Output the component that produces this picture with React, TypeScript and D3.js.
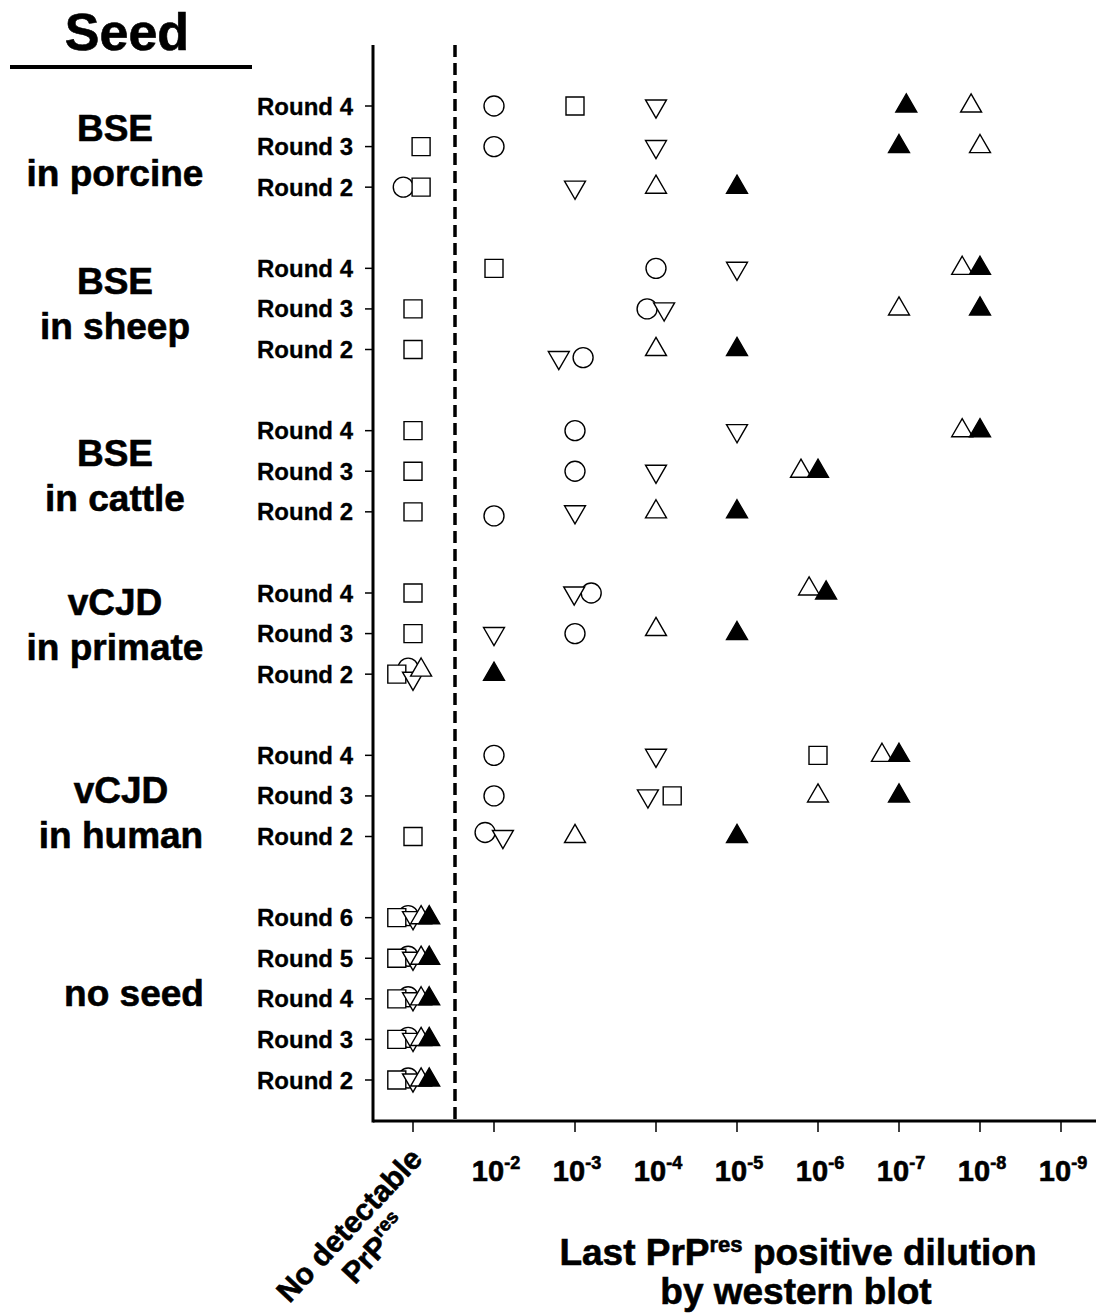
import React from "react";
import * as d3 from "d3";

// seed groups and the PMCA rounds shown for each
const groupLines = [
  ["BSE", "in porcine"],
  ["BSE", "in sheep"],
  ["BSE", "in cattle"],
  ["vCJD", "in primate"],
  ["vCJD", "in human"],
  ["no seed"],
];
const groupRounds = [
  [4, 3, 2],
  [4, 3, 2],
  [4, 3, 2],
  [4, 3, 2],
  [4, 3, 2],
  [6, 5, 4, 3, 2],
];

// dilution exponents on the x axis (10^-n); 1 = no detectable PrPres
const xTicks = [2, 3, 4, 5, 6, 7, 8, 9];
const ndValue = 1;

// last positive dilution per row (exponent), one entry per round row top to bottom
const circleVals = [2, 2, 0.88, 4, 3.89, 3.1, 3, 3, 2, 3.2, 3, 0.94, 2, 2, 1.89, 0.94, 0.94, 0.94, 0.94, 0.94];
const squareVals = [3, 1.1, 1.1, 2, 1, 1, 1, 1, 1, 1, 1, 0.8, 6, 4.2, 1, 0.8, 0.8, 0.8, 0.8, 0.8];
const downTriVals = [4, 4, 3, 5, 4.1, 2.8, 5, 4, 3, 2.99, 2, 1, 4, 3.9, 2.11, 1, 1, 1, 1, 1];
const openTriVals = [7.89, 8, 4, 7.78, 7, 4, 7.78, 5.79, 4, 5.89, 4, 1.1, 6.79, 6, 3, 1.1, 1.1, 1.1, 1.1, 1.1];
const filledTriVals = [7.09, 7, 5, 8, 8, 5, 8, 6, 5, 6.1, 5, 2, 7, 7, 5, 1.2, 1.2, 1.2, 1.2, 1.2];

// small vertical jitter of overlapping points, in row units
const circleDy = [0, 0, 0, 0, 0, 0.2, 0, 0, 0.1, 0, 0, -0.15, 0, 0, -0.1, -0.05, -0.05, -0.05, -0.05, -0.05];
const downTriDy = [0, 0, 0, 0, 0, 0.2, 0, 0, 0, 0, 0, 0.1, 0, 0, 0, 0, 0, 0, 0, 0];
const openTriDy = [0, 0, 0, 0, 0, 0, 0, 0, 0, -0.1, -0.1, -0.1, 0, 0, 0, 0, 0, 0, 0, 0];

const W = 1098;
const H = 1313;
const font = "'Liberation Sans', Arial, Helvetica, sans-serif";

// label placement (layout only)
const labelSlot = [1.12, 4.87, 9.12, 12.8, 17.41, 21.86];
const labelX = [115, 115, 115, 115, 121, 134];

const x = d3.scaleLinear().domain([ndValue, 9]).range([413, 1061]);
const y = d3.scaleLinear().domain([0, 24]).range([106, 1080]);

const rows: { label: string; slot: number }[] = [];
groupRounds.forEach((rs, gi) => {
  rs.forEach((r) => rows.push({ label: `Round ${r}`, slot: rows.length + gi }));
});

const circlePath = d3.symbol(d3.symbolCircle, 314)()!;
const squarePath = d3.symbol(d3.symbolSquare, 324)()!;
const triPath = d3.symbol(d3.symbolTriangle, 190)()!;

const series = [
  { vals: circleVals, dy: circleDy, d: circlePath, fill: "#fff", rot: 0 },
  { vals: squareVals, dy: null, d: squarePath, fill: "#fff", rot: 0 },
  { vals: downTriVals, dy: downTriDy, d: triPath, fill: "#fff", rot: 180 },
  { vals: openTriVals, dy: openTriDy, d: triPath, fill: "#fff", rot: 0 },
  { vals: filledTriVals, dy: null, d: triPath, fill: "#000", rot: 0 },
];

const axisTop = 45;
const axisBottom = 1121;
const axisLeft = 373;
const dashX = 455;

// slightly heavier glyphs, closer to the scanned bold
const heavy = { stroke: "#000", strokeWidth: 0.6 };

const App = () => {
  return (
    <div style={{ position: "absolute", left: 0, top: 0 }}>
      <svg width={W} height={H} viewBox={`0 0 ${W} ${H}`} fontFamily={font} fontWeight="bold">
        <rect width={W} height={H} fill="#fff" />

        {/* header */}
        <text x={127} y={50} fontSize={52} textAnchor="middle" {...heavy}>
          Seed
        </text>
        <line x1={10} x2={252} y1={67} y2={67} stroke="#000" strokeWidth={4} />

        {/* group labels */}
        {groupLines.map((lines, gi) => {
          const cy = y(labelSlot[gi]);
          const off = ((lines.length - 1) * 45) / 2;
          return lines.map((t, li) => (
            <text
              key={gi + "-" + li}
              x={labelX[gi]}
              y={cy - off + li * 45}
              fontSize={37}
              textAnchor="middle"
              dominantBaseline="central"
              {...heavy}
            >
              {t}
            </text>
          ));
        })}

        {/* y axis */}
        <line x1={axisLeft} x2={axisLeft} y1={axisTop} y2={axisBottom + 1.5} stroke="#000" strokeWidth={3} />
        {rows.map((r, i) => (
          <g key={i} transform={`translate(0,${y(r.slot)})`}>
            <line x1={axisLeft - 8} x2={axisLeft} stroke="#000" strokeWidth={1.5} />
            <text x={353} fontSize={24} textAnchor="end" dominantBaseline="central" stroke="#000" strokeWidth={0.3}>
              {r.label}
            </text>
          </g>
        ))}

        {/* x axis */}
        <line x1={axisLeft} x2={1096} y1={axisBottom} y2={axisBottom} stroke="#000" strokeWidth={3} />
        {[ndValue, ...xTicks].map((v) => (
          <line key={v} x1={x(v)} x2={x(v)} y1={axisBottom} y2={axisBottom + 11} stroke="#000" strokeWidth={1.5} />
        ))}
        {xTicks.map((v) => (
          <text key={v} x={x(v) + 2} y={1181} fontSize={29} textAnchor="middle" {...heavy}>
            10
            <tspan fontSize={18} dy={-12}>
              -{v}
            </tspan>
          </text>
        ))}

        {/* no detectable label */}
        <g transform="translate(349,1225) rotate(-47)" fontSize={30} {...heavy}>
          <text textAnchor="middle" dominantBaseline="central">
            No detectable
          </text>
          <text y={35} textAnchor="middle" dominantBaseline="central">
            PrP
            <tspan fontSize={19} dy={-10}>
              res
            </tspan>
          </text>
        </g>

        {/* dashed separator */}
        <line
          x1={dashX}
          x2={dashX}
          y1={axisTop}
          y2={axisBottom}
          stroke="#000"
          strokeWidth={3.5}
          strokeDasharray="12,6"
        />

        {/* points */}
        {series.map((s, si) => (
          <g key={si}>
            {s.vals.map((v, i) => (
              <path
                key={i}
                d={s.d}
                transform={`translate(${x(v)},${y(rows[i].slot + (s.dy ? s.dy[i] : 0))}) rotate(${s.rot})`}
                fill={s.fill}
                stroke="#000"
                strokeWidth={1.4}
              />
            ))}
          </g>
        ))}

        {/* x title */}
        <text x={798} y={1265} fontSize={37} textAnchor="middle" {...heavy}>
          Last PrP
          <tspan fontSize={22} dy={-13}>
            res
          </tspan>
          <tspan dy={13}> positive dilution</tspan>
        </text>
        <text x={796} y={1304} fontSize={37} textAnchor="middle" {...heavy}>
          by western blot
        </text>
      </svg>
    </div>
  );
};

export default App;
